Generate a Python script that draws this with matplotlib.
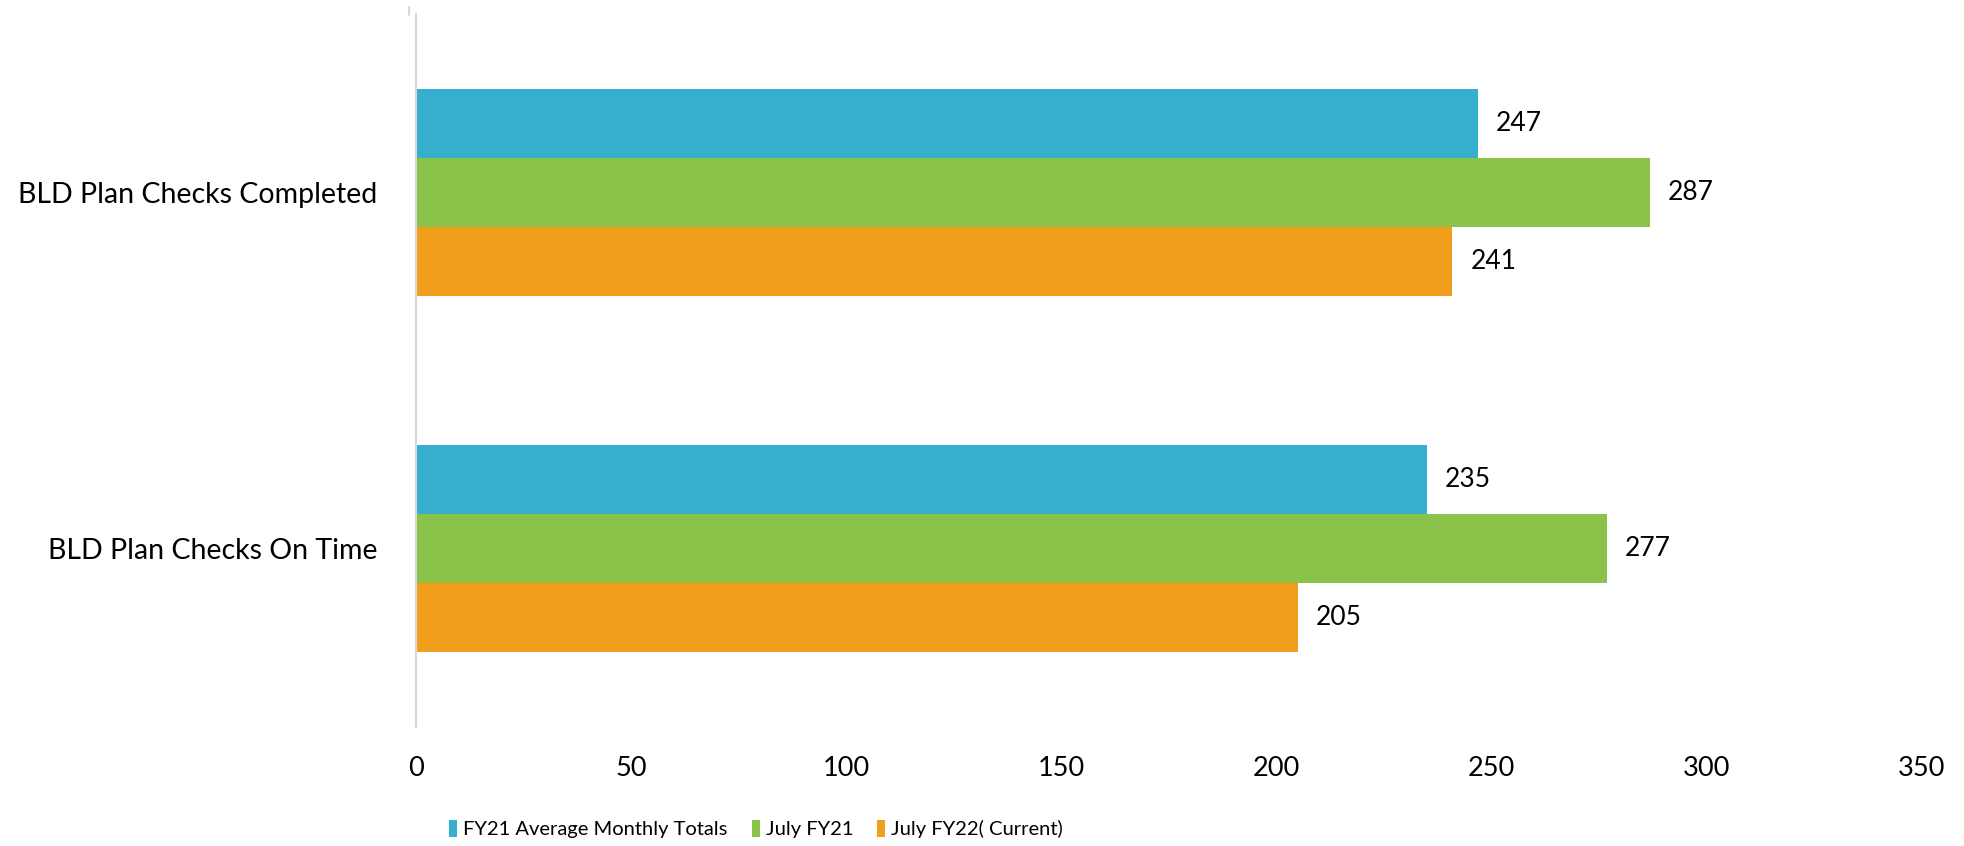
import matplotlib
matplotlib.use("Agg")
import matplotlib.pyplot as plt
from matplotlib.lines import Line2D
from matplotlib.patches import Patch
import numpy as np

categories = ["BLD Plan Checks Completed", "BLD Plan Checks On Time"]
series_names = ["FY21 Average Monthly Totals", "July FY21", "July FY22( Current)"]
fy21_avg = [247, 235]
july_fy21 = [287, 277]
july_fy22 = [241, 205]
x_ticks = [0, 50, 100, 150, 200, 250, 300, 350]
colors = ["#36AFCE", "#8BC34A", "#F29E1D"]

plt.rcParams['font.family'] = ['Lato', 'DejaVu Sans']

W, H = 1964, 846
fig = plt.figure(figsize=(W / 100, H / 100), dpi=100)
ax = fig.add_axes([416 / W, 1 - 727 / H, (1921 - 416) / W, (727 - 14) / H])

values = [fy21_avg, july_fy21, july_fy22]
bh = 0.194
ypos = np.arange(len(categories))
for i, (vals, c) in enumerate(zip(values, colors)):
    y = ypos + (i - 1) * bh
    ax.barh(y, vals, height=bh, color=c, label=series_names[i])
    for yy, v in zip(y, vals):
        ax.text(v + 4.2, yy, str(v), va='center', ha='left', fontsize=19, color='black')

ax.set_xlim(0, 350)
ax.set_ylim(1.5, -0.5)
ax.set_yticks(ypos)
ax.set_yticklabels(categories, fontsize=20.5)
ax.set_xticks(x_ticks)
ax.set_xticklabels([str(t) for t in x_ticks], fontsize=19.5)
ax.tick_params(axis='both', length=0)
ax.tick_params(axis='y', pad=28)
ax.tick_params(axis='x', pad=21)
for s in ['top', 'right', 'bottom']:
    ax.spines[s].set_visible(False)
ax.spines['left'].set_color('#D9D9D9')
ax.spines['left'].set_linewidth(1.5)

# small stray tick at the top
fig.add_artist(Line2D([409 / W, 409 / W], [1 - 7 / H, 1 - 15 / H], color='#D9D9D9', lw=1.5))

handles = [Patch(facecolor=c) for c in colors]
fig.legend(handles, series_names, loc='center', bbox_to_anchor=(756 / W, 1 - 829 / H),
           ncol=3, frameon=False, handlelength=0.4, handleheight=0.9, handletextpad=0.3,
           columnspacing=1.2, prop={'size': 14.5})

fig.savefig("out.png", dpi=100)
